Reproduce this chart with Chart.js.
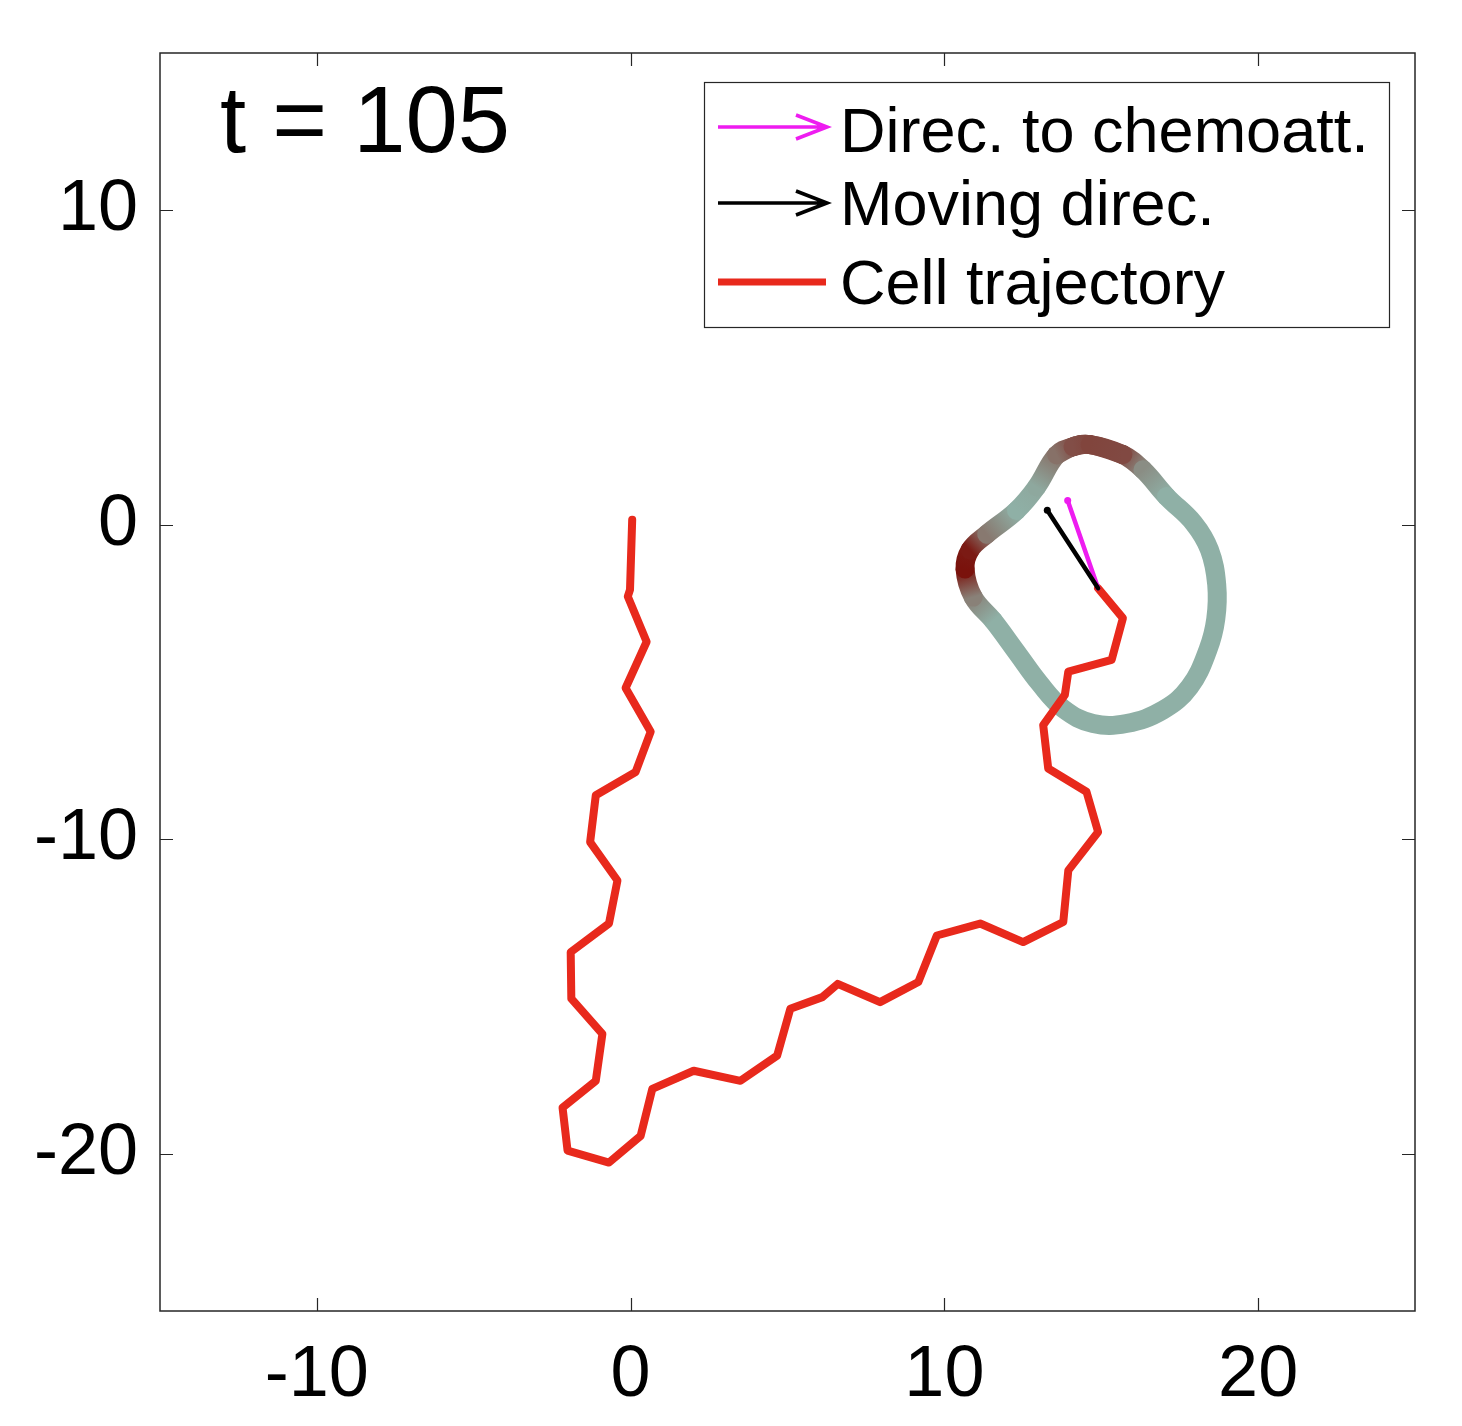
<!DOCTYPE html>
<html><head><meta charset="utf-8">
<style>html,body{margin:0;padding:0;background:#fff;}canvas{display:block;}</style>
<script src="https://cdn.jsdelivr.net/npm/chart.js@4.4.1/dist/chart.umd.min.js"></script>
</head><body>
<canvas id="c" width="1462" height="1426"></canvas>
<script>
// ---- data ----
const xTickValues = [-10, 0, 10, 20];
const yTickValues = [10, 0, -10, -20];
const timeLabel = 't = 105';
const legendLabels = ['Direc. to chemoatt.', 'Moving direc.', 'Cell trajectory'];

const trajX = [0.05, -0.02, -0.09, 0.51, -0.16, 0.64, 0.16, -1.11, -1.29, -0.42, -0.69, -1.91, -1.89, -0.90, -1.11, -2.17, -2.01, -0.69, 0.32, 0.69, 2.01, 3.50, 4.67, 5.09, 6.11, 6.60, 7.95, 9.17, 9.76, 11.14, 12.51, 13.79, 13.95, 14.90, 14.53, 13.31, 13.15, 13.84, 13.95, 15.33, 15.69, 14.90];
const trajY = [0.16, -2.07, -2.28, -3.72, -5.19, -6.58, -7.86, -8.60, -10.09, -11.31, -12.68, -13.59, -15.07, -16.19, -17.68, -18.53, -19.90, -20.28, -19.43, -17.94, -17.36, -17.68, -16.88, -15.39, -15.02, -14.60, -15.18, -14.54, -13.06, -12.68, -13.27, -12.63, -10.99, -9.77, -8.49, -7.75, -6.37, -5.41, -4.67, -4.30, -2.97, -2.02];

const cellX = [14.64, 15.69, 16.33, 17.08, 17.95, 18.45, 18.68, 18.65, 18.40, 17.82, 16.97, 15.80, 14.74, 13.79, 13.04, 12.30, 11.56, 10.92, 10.66, 10.82, 11.35, 12.30, 12.94, 13.58, 14.10];
const cellY = [2.55, 2.23, 1.75, 0.90, 0.05, -0.80, -1.90, -3.00, -3.98, -5.15, -5.89, -6.32, -6.32, -5.85, -5.05, -4.05, -3.05, -2.30, -1.41, -0.80, -0.30, 0.45, 1.20, 2.22, 2.48];
const cellSignal = [0.68, 0.65, 0.22, 0, 0, 0, 0, 0, 0, 0, 0, 0, 0, 0, 0, 0, 0, 0.3, 1, 0.95, 0.35, 0, 0.05, 0.4, 0.62];

const chemoX = [14.90, 13.93];
const chemoY = [-2.02, 0.77];
const moveX = [14.90, 13.28];
const moveY = [-2.02, 0.46];

// ---- styling ----
const FONT = 'Liberation Sans, Arial, Helvetica, sans-serif';
const RED = '#e8291c';
const MAGENTA = '#ee1cf0';
const GREY = [143, 176, 166];
const DARK = [122, 18, 12];
function sigColor(s) {
  const c = GREY.map((g, k) => Math.round(g * (1 - s) + DARK[k] * s));
  return 'rgb(' + c.join(',') + ')';
}

const n = cellX.length;
const loopIdx = [n - 2, n - 1];
for (let i = 0; i < n; i++) loopIdx.push(i);
loopIdx.push(0, 1);
const cellData = loopIdx.map(i => ({ x: cellX[i], y: cellY[i], s: cellSignal[i] }));

const zip = (xs, ys) => xs.map((x, i) => ({ x, y: ys[i] }));
const canvas = document.getElementById('c');
const ctx2d = canvas.getContext('2d');

const framePlugin = {
  id: 'frame',
  afterDraw(chart) {
    const c = chart.ctx, a = chart.chartArea;
    const xs = chart.scales.x, ys = chart.scales.y;
    c.save();
    c.strokeStyle = '#262626';
    c.lineWidth = 1.5;
    c.strokeRect(a.left, a.top, a.right - a.left, a.bottom - a.top);
    const TL = 13;
    c.beginPath();
    xTickValues.forEach(v => {
      const px = Math.round(xs.getPixelForValue(v)) + 0.5;
      c.moveTo(px, a.bottom); c.lineTo(px, a.bottom - TL);
      c.moveTo(px, a.top); c.lineTo(px, a.top + TL);
    });
    yTickValues.forEach(v => {
      const py = Math.round(ys.getPixelForValue(v)) + 0.5;
      c.moveTo(a.left, py); c.lineTo(a.left + TL, py);
      c.moveTo(a.right, py); c.lineTo(a.right - TL, py);
    });
    c.lineWidth = 1.2;
    c.stroke();

    // time label
    c.fillStyle = '#000';
    c.font = '94px ' + FONT;
    c.textBaseline = 'alphabetic';
    c.textAlign = 'left';
    c.fillText(timeLabel, a.left + 60, a.top + 99);

    // legend
    const L = a.right - 711, T = a.top + 29, W = 685, H = 245;
    c.fillStyle = '#fff';
    c.fillRect(L, T, W, H);
    c.strokeStyle = '#262626';
    c.lineWidth = 1.2;
    c.strokeRect(L + 0.5, T + 0.5, W, H);
    const rowsY = [45, 121, 200];
    const x0 = L + 14, x1 = L + 123;
    const cols = [MAGENTA, '#000', RED];
    c.lineCap = 'butt';
    rowsY.forEach((ry, i) => {
      const y = T + ry;
      c.strokeStyle = cols[i];
      c.lineWidth = i === 2 ? 7 : 3.6;
      c.beginPath();
      c.moveTo(x0, y); c.lineTo(x1 - 1, y);
      if (i < 2) {
        c.moveTo(x1 - 31, y - 12); c.lineTo(x1, y); c.lineTo(x1 - 31, y + 12);
      }
      c.stroke();
    });
    c.fillStyle = '#000';
    c.font = '63px ' + FONT;
    const baseY = [70, 143, 222];
    legendLabels.forEach((t, i) => c.fillText(t, L + 136, T + baseY[i]));
    c.restore();
  }
};

new Chart(canvas, {
  type: 'scatter',
  data: {
    datasets: [
      {
        label: legendLabels[1], data: zip(moveX, moveY), showLine: true, order: 1,
        borderColor: '#000', borderWidth: 4.5, borderCapStyle: 'round',
        pointRadius: [0, 3.5], pointBackgroundColor: '#000', pointBorderWidth: 0
      },
      {
        label: legendLabels[0], data: zip(chemoX, chemoY), showLine: true, order: 2,
        borderColor: MAGENTA, borderWidth: 4.5, borderCapStyle: 'round',
        pointRadius: [0, 3.5], pointBackgroundColor: MAGENTA, pointBorderWidth: 0
      },
      {
        label: legendLabels[2], data: zip(trajX, trajY), showLine: true, order: 3,
        borderColor: RED, borderWidth: 8, borderCapStyle: 'round', borderJoinStyle: 'round',
        pointRadius: 0, tension: 0
      },
      {
        label: 'Cell', data: cellData, showLine: true, order: 4,
        borderColor: sigColor(0), borderWidth: 19, borderCapStyle: 'round', borderJoinStyle: 'round',
        pointRadius: 0, tension: 0.4,
        segment: {
          borderColor: sc => {
            const s0 = cellData[sc.p0DataIndex].s, s1 = cellData[sc.p1DataIndex].s;
            if (s0 === s1) return sigColor(s0);
            const g = ctx2d.createLinearGradient(sc.p0.x, sc.p0.y, sc.p1.x, sc.p1.y);
            g.addColorStop(0, sigColor(s0));
            g.addColorStop(1, sigColor(s1));
            return g;
          }
        }
      }
    ]
  },
  options: {
    responsive: false,
    devicePixelRatio: 1,
    animation: false,
    events: [],
    layout: { padding: { top: 53, right: 47, left: 0, bottom: 0 } },
    plugins: { legend: { display: false }, tooltip: { enabled: false } },
    scales: {
      x: {
        type: 'linear', min: -15, max: 25, position: 'bottom',
        afterBuildTicks: s => { s.ticks = xTickValues.map(v => ({ value: v })); },
        afterFit: s => { s.height = 115; s.paddingLeft = 0; s.paddingRight = 0; },
        grid: { display: false, drawTicks: false },
        border: { display: false },
        ticks: { color: '#000', padding: 22, maxRotation: 0, font: { family: FONT, size: 72 } }
      },
      y: {
        type: 'linear', min: -25, max: 15,
        afterBuildTicks: s => { s.ticks = yTickValues.map(v => ({ value: v })); },
        afterFit: s => { s.width = 160; s.paddingTop = 0; s.paddingBottom = 0; },
        grid: { display: false, drawTicks: false },
        border: { display: false },
        ticks: { color: '#000', padding: 22, font: { family: FONT, size: 72 } }
      }
    }
  },
  plugins: [framePlugin]
});
</script>
</body></html>
